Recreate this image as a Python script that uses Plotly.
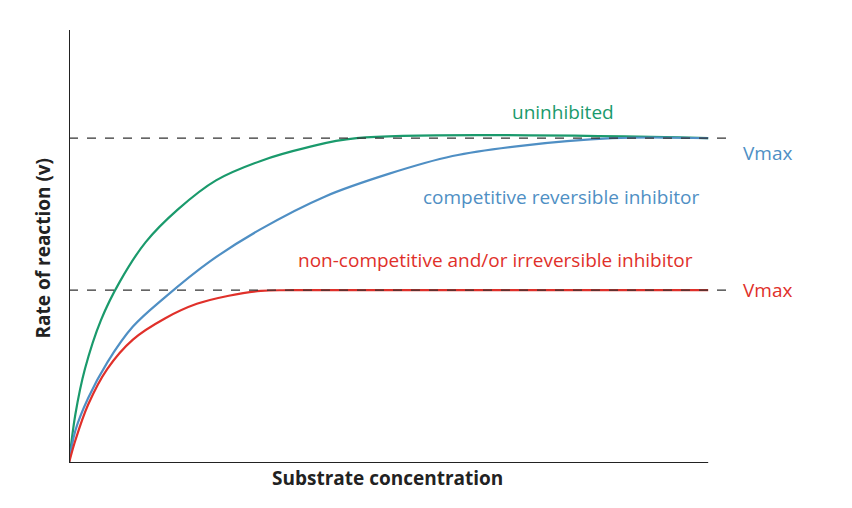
import plotly.graph_objects as go

green_x = [0, 0.1, 0.25, 0.5, 0.8, 1.2, 1.7, 2.3, 3.0, 3.7, 4.5, 10]
green_y = [0, 0.15, 0.29, 0.44, 0.56, 0.68, 0.78, 0.87, 0.93, 0.97, 1.0, 1.0]
blue_x = [0, 0.1, 0.3, 0.6, 1.0, 1.5, 2.2, 3.0, 4.0, 5.0, 6.0, 7.0, 8.5, 10]
blue_y = [0, 0.1, 0.2, 0.31, 0.42, 0.51, 0.62, 0.72, 0.82, 0.89, 0.945, 0.975, 1.0, 1.0]
red_x = [0, 0.1, 0.3, 0.6, 1.0, 1.5, 2.0, 2.5, 3.0, 3.5, 10]
red_y = [0, 0.07, 0.18, 0.29, 0.38, 0.445, 0.49, 0.515, 0.53, 0.532, 0.532]
vmax_levels = [1.0, 0.532]

GREEN, BLUE, RED = "#1a9a6c", "#4f8fc4", "#e0302a"
F = "Open Sans"

fig = go.Figure()
for xs, ys, c in [(green_x, green_y, GREEN), (blue_x, blue_y, BLUE), (red_x, red_y, RED)]:
    fig.add_trace(go.Scatter(x=xs, y=ys, mode="lines", line=dict(color=c, width=2.2, shape="spline", smoothing=1.0), hoverinfo="skip"))

for v in vmax_levels:
    fig.add_shape(type="line", x0=0, x1=10.28, y0=v, y1=v, line=dict(color="#333", width=1.2, dash="dash"))
fig.add_shape(type="line", x0=0, x1=10, y0=0, y1=0, line=dict(color="#222", width=2))
fig.add_shape(type="line", x0=0, x1=0, y0=0, y1=1.333, line=dict(color="#222", width=2))

def ann(x, y, t, c, xa="center", size=19, xref="x", yref="y", **kw):
    fig.add_annotation(x=x, y=y, text=t, showarrow=False, xanchor=xa, xref=xref, yref=yref,
                       font=dict(family=F, size=size, color=c), **kw)

ann(7.73, 1.08, "uninhibited", GREEN)
ann(7.70, 0.818, "competitive reversible inhibitor", BLUE)
ann(6.67, 0.625, "non-competitive and/or irreversible inhibitor", RED)
ann(1.02, 1.0 / 1.333, "Vmax", BLUE, xa="left", xref="paper", yref="paper")
ann(1.02, 0.532 / 1.333, "Vmax", RED, xa="left", xref="paper", yref="paper")
ann(0.484, -0.069, "<b>Substrate concentration</b>", "#222", xref="paper", yref="paper")
ann(-0.04, 0.497, "<b>Rate of reaction (v)</b>", "#222", xref="paper", yref="paper", textangle=-90)

fig.update_xaxes(range=[0, 10.31], visible=False)
fig.update_yaxes(range=[0, 1.333], visible=False)
fig.update_layout(width=852, height=508, margin=dict(l=61, r=132, t=22, b=53, autoexpand=False),
                  plot_bgcolor="white", paper_bgcolor="white", showlegend=False)
fig.write_html("out.html")
